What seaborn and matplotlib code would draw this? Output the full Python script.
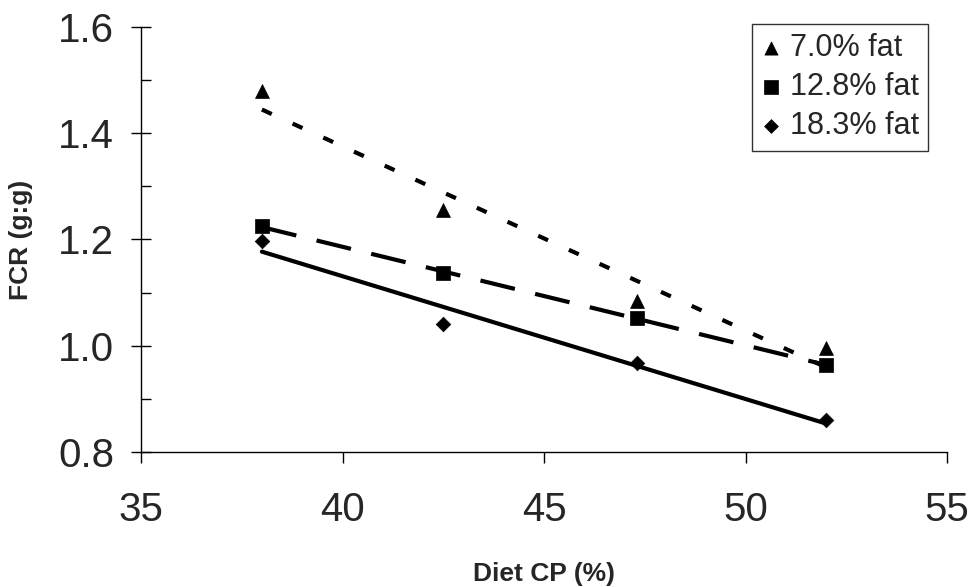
import matplotlib
matplotlib.use("Agg")
import matplotlib.pyplot as plt
import seaborn as sns
import numpy as np
import pandas as pd
from matplotlib.ticker import MultipleLocator

diet_cp = [38.0, 42.5, 47.3, 52.0]
fcr_7 = [1.480, 1.255, 1.085, 0.995]
fcr_12 = [1.225, 1.137, 1.052, 0.964]
fcr_18 = [1.197, 1.041, 0.968, 0.860]
labels = ["7.0% fat", "12.8% fat", "18.3% fat"]

sns.set_style("white")
plt.rcParams['font.family'] = ['Liberation Sans', 'DejaVu Sans']

fig = plt.figure(figsize=(9.75, 5.87), dpi=100)
ax = fig.add_axes([141/975, 1-452/587, (947-141)/975, (452-27)/587])

series = [(fcr_7, '^', (0, (2.6, 5.5))), (fcr_12, 's', (0, (8.5, 5.0))), (fcr_18, 'D', '-')]
for (vals, mk, ls), lab in zip(series, labels):
    df = pd.DataFrame({"x": diet_cp, "y": vals})
    ms = 100 if mk != 'D' else 55
    sns.regplot(data=df, x="x", y="y", ax=ax, ci=None, marker=mk, label=lab,
                scatter_kws=dict(color='black', s=ms, edgecolor='black', linewidths=0.5, alpha=1, zorder=3),
                line_kws=dict(color='black', linestyle=ls, linewidth=3.0))

ax.set_xlim(35, 55)
ax.set_ylim(0.8, 1.6)
ax.xaxis.set_major_locator(MultipleLocator(5))
ax.yaxis.set_major_locator(MultipleLocator(0.2))
ax.yaxis.set_minor_locator(MultipleLocator(0.1))
ax.set_yticklabels([f"{v:.1f}" for v in ax.get_yticks()])
for s in ['top', 'right']:
    ax.spines[s].set_visible(False)
for s in ['left', 'bottom']:
    ax.spines[s].set_color('black')
    ax.spines[s].set_linewidth(1.0)

ax.tick_params(axis='x', which='major', direction='out', length=8, width=1, color='black',
               labelsize=29, pad=20, bottom=True)
ax.tick_params(axis='y', which='major', direction='inout', length=15, width=1, color='black',
               labelsize=29, pad=12, left=True)
ax.tick_params(axis='y', which='minor', direction='in', length=7, width=1, color='black', left=True)

ax.set_xlabel("Diet CP (%)", fontsize=19, fontweight='bold', labelpad=24)
ax.set_ylabel("FCR (g:g)", fontsize=19, fontweight='bold', labelpad=18)

leg = ax.legend(loc='upper right', bbox_to_anchor=(928/975, 1-24/587), bbox_transform=fig.transFigure,
                borderaxespad=0, frameon=True, fancybox=False, fontsize=22, handlelength=0.7,
                handletextpad=0.25, labelspacing=0.3, borderpad=0.3, markerscale=0.95)
leg.get_frame().set_edgecolor('black')
leg.get_frame().set_linewidth(1.0)

fig.savefig("out.png", dpi=100, facecolor='white')
